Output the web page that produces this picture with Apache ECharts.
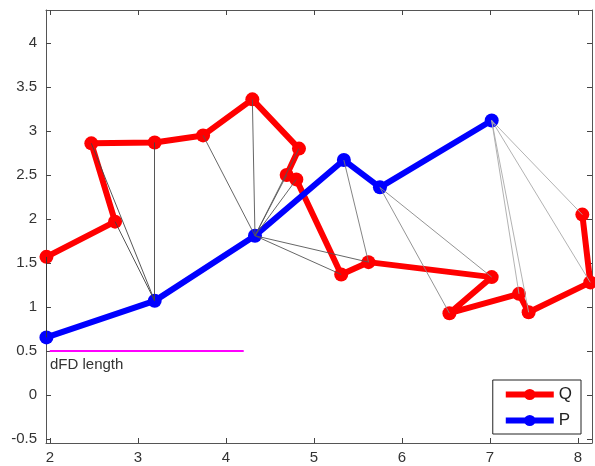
<!DOCTYPE html>
<html>
<head>
<meta charset="utf-8">
<script src="https://cdn.jsdelivr.net/npm/echarts@6/dist/echarts.min.js"></script>
<style>
  html, body { margin: 0; padding: 0; background: #fff; }
  #chart { width: 595px; height: 466px; }
</style>
</head>
<body>
<div id="chart"></div>
<script>
// curve Q (red)
var qX = [1.96, 2.74, 2.47, 3.19, 3.74, 4.30, 4.83, 4.69, 4.80, 5.31, 5.62, 7.02, 6.54, 7.33, 7.44, 8.14, 8.05];
var qY = [1.57, 1.97, 2.86, 2.87, 2.95, 3.36, 2.80, 2.50, 2.45, 1.37, 1.51, 1.34, 0.93, 1.15, 0.94, 1.28, 2.05];
// curve P (blue)
var pX = [1.96, 3.19, 4.33, 5.34, 5.75, 7.02];
var pY = [0.655, 1.07, 1.81, 2.67, 2.36, 3.12];
// coupling: [index in Q, index in P]
var links = [[0,0],[1,1],[2,1],[3,1],[4,2],[5,2],[6,2],[7,2],[8,2],[9,2],[10,2],[10,3],[11,4],[12,4],[13,5],[14,5],[15,5],[16,5]];
// dFD length marker
var dfdX = [2, 4.2];
var dfdY = 0.5;
var xTicks = [2, 3, 4, 5, 6, 7, 8];
var yTicks = [-0.5, 0, 0.5, 1, 1.5, 2, 2.5, 3, 3.5, 4];

var xMin = 1.955, xMax = 8.16;
var yMin = -0.545, yMax = 4.375;

function pts(xs, ys) {
    var out = [];
    for (var i = 0; i < xs.length; i++) out.push([xs[i], ys[i]]);
    return out;
}

var shades = ['#333', '#444', '#555', '#777', '#888', '#aaa'];
var linkData = [];
for (var i in links) {
    var q = links[i][0], p = links[i][1];
    linkData.push({
        coords: [[qX[q], qY[q]], [pX[p], pY[p]]],
        lineStyle: { color: shades[p] }
    });
}

var myChart = echarts.init(document.getElementById('chart'));

var axisCommon = {
    type: 'value',
    axisLine: { show: true, onZero: false, lineStyle: { color: '#555', width: 1 } },
    splitLine: { show: false }
};

var option = {
    animation: false,
    backgroundColor: '#fff',
    textStyle: { fontFamily: 'Liberation Sans, Arial, sans-serif' },
    grid: { left: 46, right: 3, top: 10, bottom: 23, show: false },
    legend: {
        data: [
            { name: 'Q', lineStyle: { width: 6 }, itemStyle: { color: '#ff0000' } },
            { name: 'P', lineStyle: { width: 6 }, itemStyle: { color: '#0000ff' } }
        ],
        orient: 'vertical',
        right: 14,
        top: 380,
        backgroundColor: '#fff',
        borderColor: '#222',
        borderWidth: 1,
        borderRadius: 0,
        padding: [6, 9, 5, 10],
        itemWidth: 48,
        itemHeight: 14,
        itemGap: 9,
        textStyle: { fontSize: 17, color: '#222' }
    },
    xAxis: [
        Object.assign({}, axisCommon, {
            min: xMin, max: xMax, position: 'bottom',
            axisTick: { show: true, inside: true, length: 5, customValues: xTicks, lineStyle: { color: '#444' } },
            axisLabel: { customValues: xTicks, fontSize: 15, color: '#333', margin: 7 }
        }),
        Object.assign({}, axisCommon, {
            min: xMin, max: xMax, position: 'top',
            axisTick: { show: true, inside: true, length: 5, customValues: xTicks, lineStyle: { color: '#444' } },
            axisLabel: { show: false }
        })
    ],
    yAxis: [
        Object.assign({}, axisCommon, {
            min: yMin, max: yMax, position: 'left',
            axisTick: { show: true, inside: true, length: 5, customValues: yTicks, lineStyle: { color: '#444' } },
            axisLabel: { customValues: yTicks, fontSize: 15, color: '#333', margin: 9 }
        }),
        Object.assign({}, axisCommon, {
            min: yMin, max: yMax, position: 'right',
            axisTick: { show: true, inside: true, length: 5, customValues: yTicks, lineStyle: { color: '#444' } },
            axisLabel: { show: false }
        })
    ],
    series: [
        {
            name: 'dFD',
            type: 'line',
            data: [
                { value: [dfdX[0], dfdY], label: { show: true, formatter: 'dFD length', position: 'bottom', align: 'left', offset: [0, 1], fontSize: 15, color: '#333' } },
                [dfdX[1], dfdY]
            ],
            symbol: 'circle',
            symbolSize: 1,
            showSymbol: true,
            itemStyle: { color: '#ff00ff' },
            lineStyle: { color: '#ff00ff', width: 2 },
            z: 2
        },
        {
            name: 'Q',
            type: 'line',
            data: pts(qX, qY),
            symbol: 'circle',
            symbolSize: 14,
            itemStyle: { color: '#ff0000' },
            lineStyle: { color: '#ff0000', width: 6 },
            z: 3
        },
        {
            name: 'P',
            type: 'line',
            data: pts(pX, pY),
            symbol: 'circle',
            symbolSize: 14,
            itemStyle: { color: '#0000ff' },
            lineStyle: { color: '#0000ff', width: 6 },
            z: 4
        },
        {
            name: 'links',
            type: 'lines',
            coordinateSystem: 'cartesian2d',
            data: linkData,
            lineStyle: { width: 1, opacity: 0.9 },
            z: 5
        }
    ]
};

myChart.setOption(option);
</script>
</body>
</html>
